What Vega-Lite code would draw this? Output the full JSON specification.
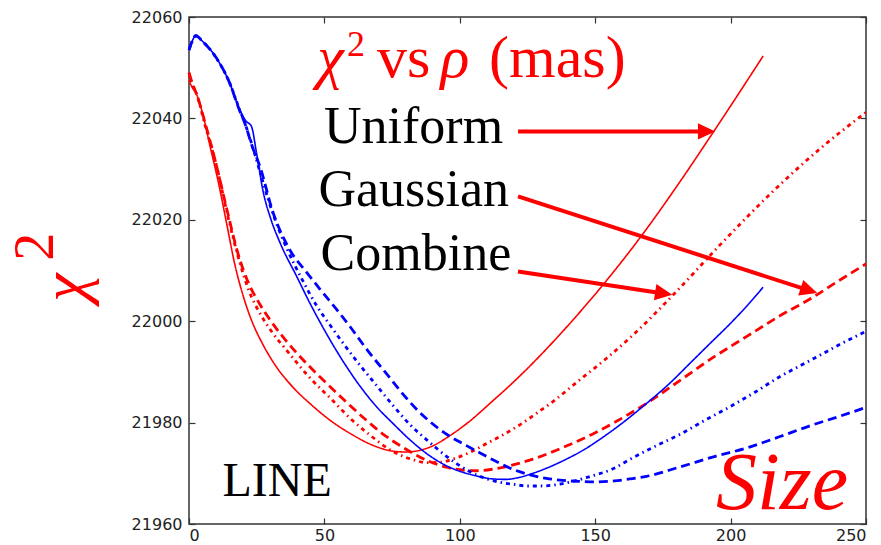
{
 "$schema": "https://vega.github.io/schema/vega-lite/v6.json",
 "width": 677,
 "height": 507,
 "autosize": {"type": "none"},
 "padding": {"left": 189, "top": 17, "right": 15, "bottom": 21},
 "background": "white",
 "config": {
  "view": {"stroke": "#333333", "strokeWidth": 1.5},
  "axis": {"grid": false, "domain": false, "tickSize": -6, "tickColor": "#333333", "tickWidth": 1.2, "labelFont": "DejaVu Sans", "labelFontSize": 16, "labelColor": "#222222"}
 },
 "datasets": {
  "curves": [
   {"g":"red","p":"Uniform","x":0,"y":22047.5},{"g":"red","p":"Uniform","x":1,"y":22046.3},{"g":"red","p":"Uniform","x":3,"y":22044.5},{"g":"red","p":"Uniform","x":5,"y":22041},{"g":"red","p":"Uniform","x":8,"y":22034},{"g":"red","p":"Uniform","x":11,"y":22027},{"g":"red","p":"Uniform","x":14,"y":22019},{"g":"red","p":"Uniform","x":17,"y":22011},{"g":"red","p":"Uniform","x":20,"y":22005},{"g":"red","p":"Uniform","x":23,"y":22000.3},{"g":"red","p":"Uniform","x":27,"y":21995.7},{"g":"red","p":"Uniform","x":32,"y":21991.2},{"g":"red","p":"Uniform","x":38,"y":21987.2},{"g":"red","p":"Uniform","x":45,"y":21983.6},{"g":"red","p":"Uniform","x":52,"y":21980.5},{"g":"red","p":"Uniform","x":60,"y":21977.7},{"g":"red","p":"Uniform","x":68,"y":21975.5},{"g":"red","p":"Uniform","x":75,"y":21974.4},{"g":"red","p":"Uniform","x":80,"y":21974.2},{"g":"red","p":"Uniform","x":85,"y":21974.5},{"g":"red","p":"Uniform","x":90,"y":21975.4},{"g":"red","p":"Uniform","x":96,"y":21977.3},{"g":"red","p":"Uniform","x":103,"y":21980},{"g":"red","p":"Uniform","x":112,"y":21984.2},{"g":"red","p":"Uniform","x":121,"y":21988.6},{"g":"red","p":"Uniform","x":130,"y":21993.4},{"g":"red","p":"Uniform","x":137,"y":21997.4},{"g":"red","p":"Uniform","x":145,"y":22002.2},{"g":"red","p":"Uniform","x":152,"y":22006.6},{"g":"red","p":"Uniform","x":160,"y":22011.9},{"g":"red","p":"Uniform","x":168,"y":22017.5},{"g":"red","p":"Uniform","x":180,"y":22026.5},{"g":"red","p":"Uniform","x":193,"y":22036.8},{"g":"red","p":"Uniform","x":203,"y":22044.9},{"g":"red","p":"Uniform","x":212,"y":22052.3},

   {"g":"red","p":"Gaussian","x":0,"y":22049},{"g":"red","p":"Gaussian","x":1,"y":22047.3},{"g":"red","p":"Gaussian","x":3,"y":22044.5},{"g":"red","p":"Gaussian","x":6,"y":22039},{"g":"red","p":"Gaussian","x":10,"y":22031},{"g":"red","p":"Gaussian","x":14,"y":22022},{"g":"red","p":"Gaussian","x":18,"y":22013.5},{"g":"red","p":"Gaussian","x":22,"y":22007.5},{"g":"red","p":"Gaussian","x":26,"y":22003.5},{"g":"red","p":"Gaussian","x":30,"y":22000.2},{"g":"red","p":"Gaussian","x":35,"y":21996.7},{"g":"red","p":"Gaussian","x":40,"y":21993.6},{"g":"red","p":"Gaussian","x":48,"y":21989.2},{"g":"red","p":"Gaussian","x":57,"y":21984.6},{"g":"red","p":"Gaussian","x":65,"y":21980.7},{"g":"red","p":"Gaussian","x":72,"y":21977.6},{"g":"red","p":"Gaussian","x":80,"y":21974.8},{"g":"red","p":"Gaussian","x":88,"y":21972.5},{"g":"red","p":"Gaussian","x":95,"y":21971.2},{"g":"red","p":"Gaussian","x":100,"y":21970.7},{"g":"red","p":"Gaussian","x":106,"y":21970.5},{"g":"red","p":"Gaussian","x":112,"y":21970.8},{"g":"red","p":"Gaussian","x":120,"y":21971.7},{"g":"red","p":"Gaussian","x":127,"y":21972.8},{"g":"red","p":"Gaussian","x":135,"y":21974.4},{"g":"red","p":"Gaussian","x":142,"y":21976},{"g":"red","p":"Gaussian","x":150,"y":21978},{"g":"red","p":"Gaussian","x":158,"y":21980.3},{"g":"red","p":"Gaussian","x":169,"y":21983.8},{"g":"red","p":"Gaussian","x":181,"y":21988.2},{"g":"red","p":"Gaussian","x":194,"y":21993},{"g":"red","p":"Gaussian","x":206,"y":21997},{"g":"red","p":"Gaussian","x":218,"y":22001},{"g":"red","p":"Gaussian","x":230,"y":22004.6},{"g":"red","p":"Gaussian","x":240,"y":22008},{"g":"red","p":"Gaussian","x":250,"y":22011.3},

   {"g":"red","p":"Combine","x":0,"y":22049},{"g":"red","p":"Combine","x":1,"y":22047},{"g":"red","p":"Combine","x":3,"y":22044.5},{"g":"red","p":"Combine","x":6,"y":22038.5},{"g":"red","p":"Combine","x":10,"y":22031},{"g":"red","p":"Combine","x":14,"y":22021.5},{"g":"red","p":"Combine","x":18,"y":22013},{"g":"red","p":"Combine","x":22,"y":22006.2},{"g":"red","p":"Combine","x":26.8,"y":22001},{"g":"red","p":"Combine","x":31,"y":21997.6},{"g":"red","p":"Combine","x":36,"y":21994.3},{"g":"red","p":"Combine","x":44,"y":21989.2},{"g":"red","p":"Combine","x":53,"y":21984.4},{"g":"red","p":"Combine","x":60,"y":21980.6},{"g":"red","p":"Combine","x":66,"y":21977.9},{"g":"red","p":"Combine","x":75,"y":21974.4},{"g":"red","p":"Combine","x":82,"y":21972.8},{"g":"red","p":"Combine","x":88,"y":21972.1},{"g":"red","p":"Combine","x":93,"y":21972.2},{"g":"red","p":"Combine","x":98,"y":21972.9},{"g":"red","p":"Combine","x":104,"y":21974.2},{"g":"red","p":"Combine","x":110,"y":21975.9},{"g":"red","p":"Combine","x":116,"y":21977.6},{"g":"red","p":"Combine","x":122,"y":21979.5},{"g":"red","p":"Combine","x":128,"y":21981.7},{"g":"red","p":"Combine","x":134.5,"y":21984.2},{"g":"red","p":"Combine","x":144,"y":21988.3},{"g":"red","p":"Combine","x":154,"y":21992.6},{"g":"red","p":"Combine","x":164,"y":21997.3},{"g":"red","p":"Combine","x":179,"y":22005.3},{"g":"red","p":"Combine","x":196,"y":22015},{"g":"red","p":"Combine","x":216,"y":22025.8},{"g":"red","p":"Combine","x":233,"y":22034},{"g":"red","p":"Combine","x":250,"y":22041.2},

   {"g":"blue","p":"Uniform","x":0,"y":22053.5},{"g":"blue","p":"Uniform","x":1,"y":22055},{"g":"blue","p":"Uniform","x":2.5,"y":22056.3},{"g":"blue","p":"Uniform","x":5,"y":22055.2},{"g":"blue","p":"Uniform","x":10,"y":22052},{"g":"blue","p":"Uniform","x":15,"y":22047},{"g":"blue","p":"Uniform","x":18.5,"y":22042},{"g":"blue","p":"Uniform","x":21,"y":22039.5},{"g":"blue","p":"Uniform","x":23,"y":22038.5},{"g":"blue","p":"Uniform","x":25,"y":22033},{"g":"blue","p":"Uniform","x":27.4,"y":22025.5},{"g":"blue","p":"Uniform","x":30,"y":22020.5},{"g":"blue","p":"Uniform","x":33.6,"y":22015.5},{"g":"blue","p":"Uniform","x":39.8,"y":22008.8},{"g":"blue","p":"Uniform","x":44.7,"y":22003.5},{"g":"blue","p":"Uniform","x":48.4,"y":21999.8},{"g":"blue","p":"Uniform","x":57,"y":21992},{"g":"blue","p":"Uniform","x":63,"y":21987.3},{"g":"blue","p":"Uniform","x":69.3,"y":21983.1},{"g":"blue","p":"Uniform","x":75,"y":21980},{"g":"blue","p":"Uniform","x":81.6,"y":21976.6},{"g":"blue","p":"Uniform","x":88,"y":21973.8},{"g":"blue","p":"Uniform","x":95,"y":21971.5},{"g":"blue","p":"Uniform","x":100,"y":21970.4},{"g":"blue","p":"Uniform","x":106,"y":21969.5},{"g":"blue","p":"Uniform","x":112,"y":21968.9},{"g":"blue","p":"Uniform","x":117,"y":21968.8},{"g":"blue","p":"Uniform","x":122,"y":21969.2},{"g":"blue","p":"Uniform","x":127,"y":21970},{"g":"blue","p":"Uniform","x":132,"y":21971},{"g":"blue","p":"Uniform","x":139,"y":21972.7},{"g":"blue","p":"Uniform","x":146,"y":21974.7},{"g":"blue","p":"Uniform","x":152,"y":21976.8},{"g":"blue","p":"Uniform","x":159,"y":21979.5},{"g":"blue","p":"Uniform","x":169,"y":21983.8},{"g":"blue","p":"Uniform","x":177,"y":21987.5},{"g":"blue","p":"Uniform","x":185,"y":21991.7},{"g":"blue","p":"Uniform","x":192,"y":21995.4},{"g":"blue","p":"Uniform","x":200,"y":21999.6},{"g":"blue","p":"Uniform","x":206,"y":22003},{"g":"blue","p":"Uniform","x":212,"y":22006.7},

   {"g":"blue","p":"Gaussian","x":0,"y":22053.5},{"g":"blue","p":"Gaussian","x":1,"y":22055},{"g":"blue","p":"Gaussian","x":2.5,"y":22056.3},{"g":"blue","p":"Gaussian","x":5,"y":22055.2},{"g":"blue","p":"Gaussian","x":10,"y":22052},{"g":"blue","p":"Gaussian","x":15,"y":22047},{"g":"blue","p":"Gaussian","x":18.5,"y":22041.8},{"g":"blue","p":"Gaussian","x":21,"y":22038.5},{"g":"blue","p":"Gaussian","x":23,"y":22035},{"g":"blue","p":"Gaussian","x":26.2,"y":22030.5},{"g":"blue","p":"Gaussian","x":31,"y":22021.5},{"g":"blue","p":"Gaussian","x":37.3,"y":22014},{"g":"blue","p":"Gaussian","x":43.5,"y":22009.6},{"g":"blue","p":"Gaussian","x":48.4,"y":22006.3},{"g":"blue","p":"Gaussian","x":55,"y":22002},{"g":"blue","p":"Gaussian","x":59.5,"y":21998.9},{"g":"blue","p":"Gaussian","x":66,"y":21994.2},{"g":"blue","p":"Gaussian","x":73,"y":21989.6},{"g":"blue","p":"Gaussian","x":80,"y":21985},{"g":"blue","p":"Gaussian","x":86,"y":21981.6},{"g":"blue","p":"Gaussian","x":92,"y":21978.9},{"g":"blue","p":"Gaussian","x":96,"y":21977.4},{"g":"blue","p":"Gaussian","x":102,"y":21975.6},{"g":"blue","p":"Gaussian","x":107.5,"y":21974},{"g":"blue","p":"Gaussian","x":114,"y":21972.2},{"g":"blue","p":"Gaussian","x":120,"y":21970.7},{"g":"blue","p":"Gaussian","x":126,"y":21969.7},{"g":"blue","p":"Gaussian","x":132,"y":21969},{"g":"blue","p":"Gaussian","x":138,"y":21968.6},{"g":"blue","p":"Gaussian","x":144,"y":21968.4},{"g":"blue","p":"Gaussian","x":150,"y":21968.3},{"g":"blue","p":"Gaussian","x":157,"y":21968.5},{"g":"blue","p":"Gaussian","x":163,"y":21968.9},{"g":"blue","p":"Gaussian","x":169,"y":21969.4},{"g":"blue","p":"Gaussian","x":181,"y":21971.2},{"g":"blue","p":"Gaussian","x":194,"y":21973.3},{"g":"blue","p":"Gaussian","x":206,"y":21975},{"g":"blue","p":"Gaussian","x":218,"y":21977.2},{"g":"blue","p":"Gaussian","x":230,"y":21979.5},{"g":"blue","p":"Gaussian","x":240,"y":21981.2},{"g":"blue","p":"Gaussian","x":250,"y":21983},

   {"g":"blue","p":"Combine","x":0,"y":22053.5},{"g":"blue","p":"Combine","x":1,"y":22055},{"g":"blue","p":"Combine","x":2.5,"y":22056.3},{"g":"blue","p":"Combine","x":5,"y":22055.2},{"g":"blue","p":"Combine","x":10,"y":22052},{"g":"blue","p":"Combine","x":15,"y":22047},{"g":"blue","p":"Combine","x":18.5,"y":22042},{"g":"blue","p":"Combine","x":21,"y":22038.5},{"g":"blue","p":"Combine","x":24,"y":22033.5},{"g":"blue","p":"Combine","x":27,"y":22028},{"g":"blue","p":"Combine","x":31,"y":22021.2},{"g":"blue","p":"Combine","x":36,"y":22014.5},{"g":"blue","p":"Combine","x":42,"y":22008},{"g":"blue","p":"Combine","x":47.2,"y":22003},{"g":"blue","p":"Combine","x":52,"y":21999.3},{"g":"blue","p":"Combine","x":57,"y":21995.6},{"g":"blue","p":"Combine","x":63,"y":21991.4},{"g":"blue","p":"Combine","x":69.3,"y":21987.3},{"g":"blue","p":"Combine","x":75,"y":21983.6},{"g":"blue","p":"Combine","x":81.6,"y":21979.6},{"g":"blue","p":"Combine","x":87.8,"y":21976.6},{"g":"blue","p":"Combine","x":95.2,"y":21973.3},{"g":"blue","p":"Combine","x":103.8,"y":21970.3},{"g":"blue","p":"Combine","x":110,"y":21968.9},{"g":"blue","p":"Combine","x":115,"y":21968.2},{"g":"blue","p":"Combine","x":120,"y":21967.8},{"g":"blue","p":"Combine","x":125,"y":21967.5},{"g":"blue","p":"Combine","x":130,"y":21967.5},{"g":"blue","p":"Combine","x":135,"y":21967.7},{"g":"blue","p":"Combine","x":141,"y":21968.3},{"g":"blue","p":"Combine","x":147,"y":21969.2},{"g":"blue","p":"Combine","x":157,"y":21971},{"g":"blue","p":"Combine","x":163,"y":21972.8},{"g":"blue","p":"Combine","x":172,"y":21975.3},{"g":"blue","p":"Combine","x":181,"y":21977.6},{"g":"blue","p":"Combine","x":190,"y":21980.3},{"g":"blue","p":"Combine","x":200,"y":21983.2},{"g":"blue","p":"Combine","x":209,"y":21986},{"g":"blue","p":"Combine","x":218,"y":21989},{"g":"blue","p":"Combine","x":226,"y":21991.3},{"g":"blue","p":"Combine","x":233,"y":21993.3},{"g":"blue","p":"Combine","x":241,"y":21995.6},{"g":"blue","p":"Combine","x":250,"y":21998}
  ]
 },
 "layer": [
  {
   "data": {"name": "curves"},
   "mark": {"type": "line", "interpolate": "monotone"},
   "encoding": {
    "x": {"field": "x", "type": "quantitative", "scale": {"domain": [0, 250], "nice": false, "zero": false}, "axis": {"orient": "bottom", "values": [0, 50, 100, 150, 200, 250], "labelPadding": 9, "title": null}},
    "y": {"field": "y", "type": "quantitative", "scale": {"domain": [21960, 22060], "nice": false, "zero": false}, "axis": {"orient": "left", "values": [21960, 21980, 22000, 22020, 22040, 22060], "labelPadding": 13, "title": null, "format": "d"}},
    "color": {"field": "g", "type": "nominal", "scale": {"domain": ["red", "blue"], "range": ["#ff0000", "#0000ff"]}, "legend": null},
    "strokeDash": {"field": "p", "type": "nominal", "scale": {"domain": ["Uniform", "Gaussian", "Combine"], "range": [[1, 0], [9, 5], [4, 4, 1.5, 4]]}, "legend": null},
    "strokeWidth": {"field": "p", "type": "ordinal", "scale": {"type": "ordinal", "domain": ["Uniform", "Gaussian", "Combine"], "range": [1.6, 2.8, 2.8]}, "legend": null}
   }
  },
  {
   "data": {"values": [
    {"x": 121.49, "y": 22037.44, "x2": 191.14, "y2": 22037.44},
    {"x": 121.49, "y": 22024.62, "x2": 228.95, "y2": 22006.07},
    {"x": 121.49, "y": 22009.82, "x2": 175.3, "y2": 22005.48}
   ]},
   "mark": {"type": "rule", "color": "#ff0000", "strokeWidth": 4},
   "encoding": {
    "x": {"field": "x", "type": "quantitative", "axis": null},
    "y": {"field": "y", "type": "quantitative", "axis": null},
    "x2": {"field": "x2"},
    "y2": {"field": "y2"}
   }
  },
  {
   "data": {"values": [{"x": 191.14, "y": 22037.44}]},
   "mark": {"type": "point", "shape": "M1,0L-1,-0.95L-1,0.95Z", "filled": true, "color": "#ff0000", "opacity": 1, "size": 300, "angle": 0, "strokeWidth": 0},
   "encoding": {"x": {"field": "x", "type": "quantitative", "axis": null}, "y": {"field": "y", "type": "quantitative", "axis": null}}
  },
  {
   "data": {"values": [{"x": 228.95, "y": 22006.07}]},
   "mark": {"type": "point", "shape": "M1,0L-1,-0.95L-1,0.95Z", "filled": true, "color": "#ff0000", "opacity": 1, "size": 300, "angle": 17.9, "strokeWidth": 0},
   "encoding": {"x": {"field": "x", "type": "quantitative", "axis": null}, "y": {"field": "y", "type": "quantitative", "axis": null}}
  },
  {
   "data": {"values": [{"x": 175.3, "y": 22005.48}]},
   "mark": {"type": "point", "shape": "M1,0L-1,-0.95L-1,0.95Z", "filled": true, "color": "#ff0000", "opacity": 1, "size": 300, "angle": 8.6, "strokeWidth": 0},
   "encoding": {"x": {"field": "x", "type": "quantitative", "axis": null}, "y": {"field": "y", "type": "quantitative", "axis": null}}
  },
  {
   "data": {"values": [{"x": 47.4, "y": 22048.2, "t": "χ"}, {"x": 92.9, "y": 22048.2, "t": "ρ"}]},
   "mark": {"type": "text", "font": "Liberation Serif", "fontSize": 60, "fontStyle": "italic", "color": "#ff0000", "align": "left", "baseline": "alphabetic"},
   "encoding": {"x": {"field": "x", "type": "quantitative", "axis": null}, "y": {"field": "y", "type": "quantitative", "axis": null}, "text": {"field": "t"}}
  },
  {
   "data": {"values": [{"x": 69.4, "y": 22048.2, "t": "vs"}, {"x": 110.8, "y": 22048.2, "t": "(mas)"}]},
   "mark": {"type": "text", "font": "Liberation Serif", "fontSize": 60, "color": "#ff0000", "align": "left", "baseline": "alphabetic"},
   "encoding": {"x": {"field": "x", "type": "quantitative", "axis": null}, "y": {"field": "y", "type": "quantitative", "axis": null}, "text": {"field": "t"}}
  },
  {
   "data": {"values": [{"x": 58.3, "y": 22052.3, "t": "2"}]},
   "mark": {"type": "text", "font": "Liberation Serif", "fontSize": 36, "color": "#ff0000", "align": "left", "baseline": "alphabetic"},
   "encoding": {"x": {"field": "x", "type": "quantitative", "axis": null}, "y": {"field": "y", "type": "quantitative", "axis": null}, "text": {"field": "t"}}
  },
  {
   "data": {"values": [{"x": 49.85, "y": 22035.15, "t": "Uniform"}, {"x": 47.8, "y": 22022.64, "t": "Gaussian"}, {"x": 48.6, "y": 22010.16, "t": "Combine"}]},
   "mark": {"type": "text", "font": "Liberation Serif", "fontSize": 52, "color": "#000000", "align": "left", "baseline": "alphabetic"},
   "encoding": {"x": {"field": "x", "type": "quantitative", "axis": null}, "y": {"field": "y", "type": "quantitative", "axis": null}, "text": {"field": "t"}}
  },
  {
   "data": {"values": [{"x": 12.37, "y": 21965.6, "t": "LINE"}]},
   "mark": {"type": "text", "font": "Liberation Serif", "fontSize": 48, "color": "#000000", "align": "left", "baseline": "alphabetic"},
   "encoding": {"x": {"field": "x", "type": "quantitative", "axis": null}, "y": {"field": "y", "type": "quantitative", "axis": null}, "text": {"field": "t"}}
  },
  {
   "data": {"values": [{"x": -38.4, "y": 22003.85, "t": "χ"}]},
   "mark": {"type": "text", "font": "Liberation Serif", "fontSize": 64, "fontStyle": "italic", "color": "#ff0000", "align": "left", "baseline": "alphabetic", "angle": 270},
   "encoding": {"x": {"field": "x", "type": "quantitative", "axis": null}, "y": {"field": "y", "type": "quantitative", "axis": null}, "text": {"field": "t"}}
  },
  {
   "data": {"values": [{"x": -50.2, "y": 22011.93, "t": "2"}]},
   "mark": {"type": "text", "font": "Liberation Serif", "fontSize": 56, "color": "#ff0000", "align": "left", "baseline": "alphabetic", "angle": 270},
   "encoding": {"x": {"field": "x", "type": "quantitative", "axis": null}, "y": {"field": "y", "type": "quantitative", "axis": null}, "text": {"field": "t"}}
  },
  {
   "data": {"values": [{"x": 194.6, "y": 21963.0, "t": "Size"}]},
   "mark": {"type": "text", "font": "Liberation Serif", "fontSize": 82, "fontStyle": "italic", "color": "#ff0000", "align": "left", "baseline": "alphabetic"},
   "encoding": {
    "x": {"field": "x", "type": "quantitative", "axis": {"orient": "top", "labels": false, "values": [0, 50, 100, 150, 200, 250], "title": null}},
    "y": {"field": "y", "type": "quantitative", "axis": {"orient": "right", "labels": false, "values": [21960, 21980, 22000, 22020, 22040, 22060], "title": null}},
    "text": {"field": "t"}
   }
  }
 ]
}
